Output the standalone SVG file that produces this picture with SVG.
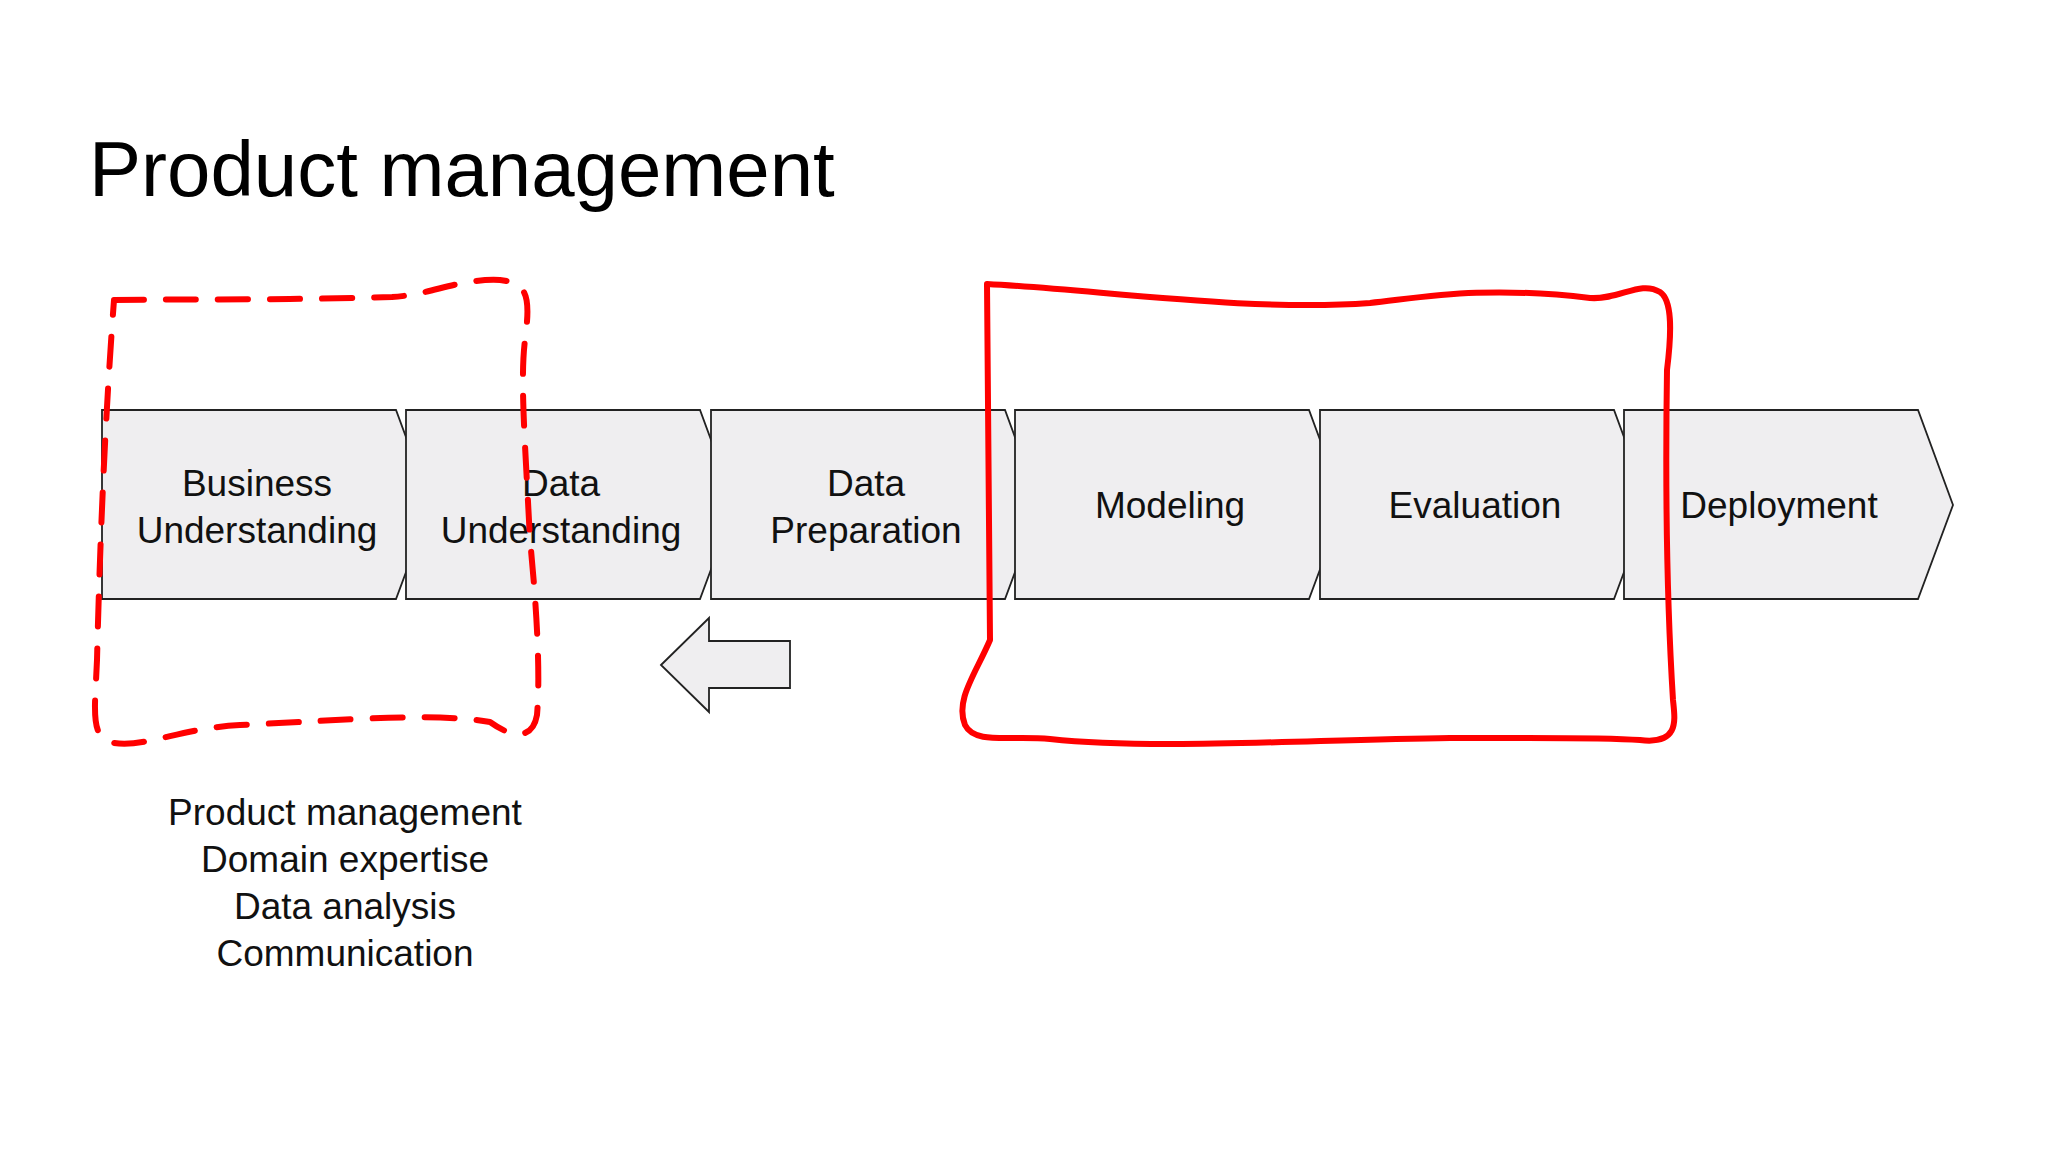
<svg xmlns="http://www.w3.org/2000/svg" width="2048" height="1152" viewBox="0 0 2048 1152">
<style>
.c{fill:#efeef0;stroke:#222;stroke-width:1.8}
.t{font-family:"Liberation Sans",Arial,sans-serif;font-size:37px;fill:#111;text-anchor:middle}
.r{fill:none;stroke:#f00;stroke-width:6;stroke-linecap:round;stroke-linejoin:round}
</style>
<rect width="2048" height="1152" fill="#fff"/>
<text x="89" y="196" font-family="Liberation Sans,Arial,sans-serif" font-size="78" fill="#000">Product management</text>
<g id="n1"><path class="c" d="M102,410H396L431,505L396,599H102Z"/><text class="t" x="257" y="496">Business</text><text class="t" x="257" y="543">Understanding</text></g>
<g id="n2"><path class="c" d="M406,410H700L735,505L700,599H406Z"/><text class="t" x="561" y="496">Data</text><text class="t" x="561" y="543">Understanding</text></g>
<g id="n3"><path class="c" d="M711,410H1005L1040,505L1005,599H711Z"/><text class="t" x="866" y="496">Data</text><text class="t" x="866" y="543">Preparation</text></g>
<g id="n4"><path class="c" d="M1015,410H1309L1344,505L1309,599H1015Z"/><text class="t" x="1170" y="518">Modeling</text></g>
<g id="n5"><path class="c" d="M1320,410H1614L1649,505L1614,599H1320Z"/><text class="t" x="1475" y="518">Evaluation</text></g>
<g id="n6"><path class="c" d="M1624,410H1918L1953,505L1918,599H1624Z"/><text class="t" x="1779" y="518">Deployment</text></g>
<g id="connectors">
<path class="c" d="M661,665L709,618V641H790V688H709V712Z"/>
</g>
<g id="annotations">
<path class="r" stroke-dasharray="30,22" d="M114,300C200,299 300,300 392,297C430,295 460,278 500,280C530,283 530,300 525,340C520,380 525,440 530,540C538,620 540,680 537,715C533,738 515,740 490,722C430,712 350,720 240,725C180,728 140,750 110,742C90,735 95,710 97,660C100,540 105,420 114,300"/>
<path class="r" d="M987,284C988,380 988,500 990,640C975,675 955,700 965,725C975,745 1010,735 1050,739C1150,750 1300,740 1450,738C1550,738 1600,737 1640,740C1680,745 1675,720 1673,700C1668,620 1665,500 1667,370C1672,330 1672,300 1660,292C1640,280 1620,300 1590,298C1480,285 1420,298 1370,303C1250,312 1100,290 987,284"/>
</g>
<g font-family="Liberation Sans,Arial,sans-serif" font-size="37" fill="#111" text-anchor="middle">
<text x="345" y="825">Product management</text>
<text x="345" y="872">Domain expertise</text>
<text x="345" y="919">Data analysis</text>
<text x="345" y="966">Communication</text>
</g>
</svg>
